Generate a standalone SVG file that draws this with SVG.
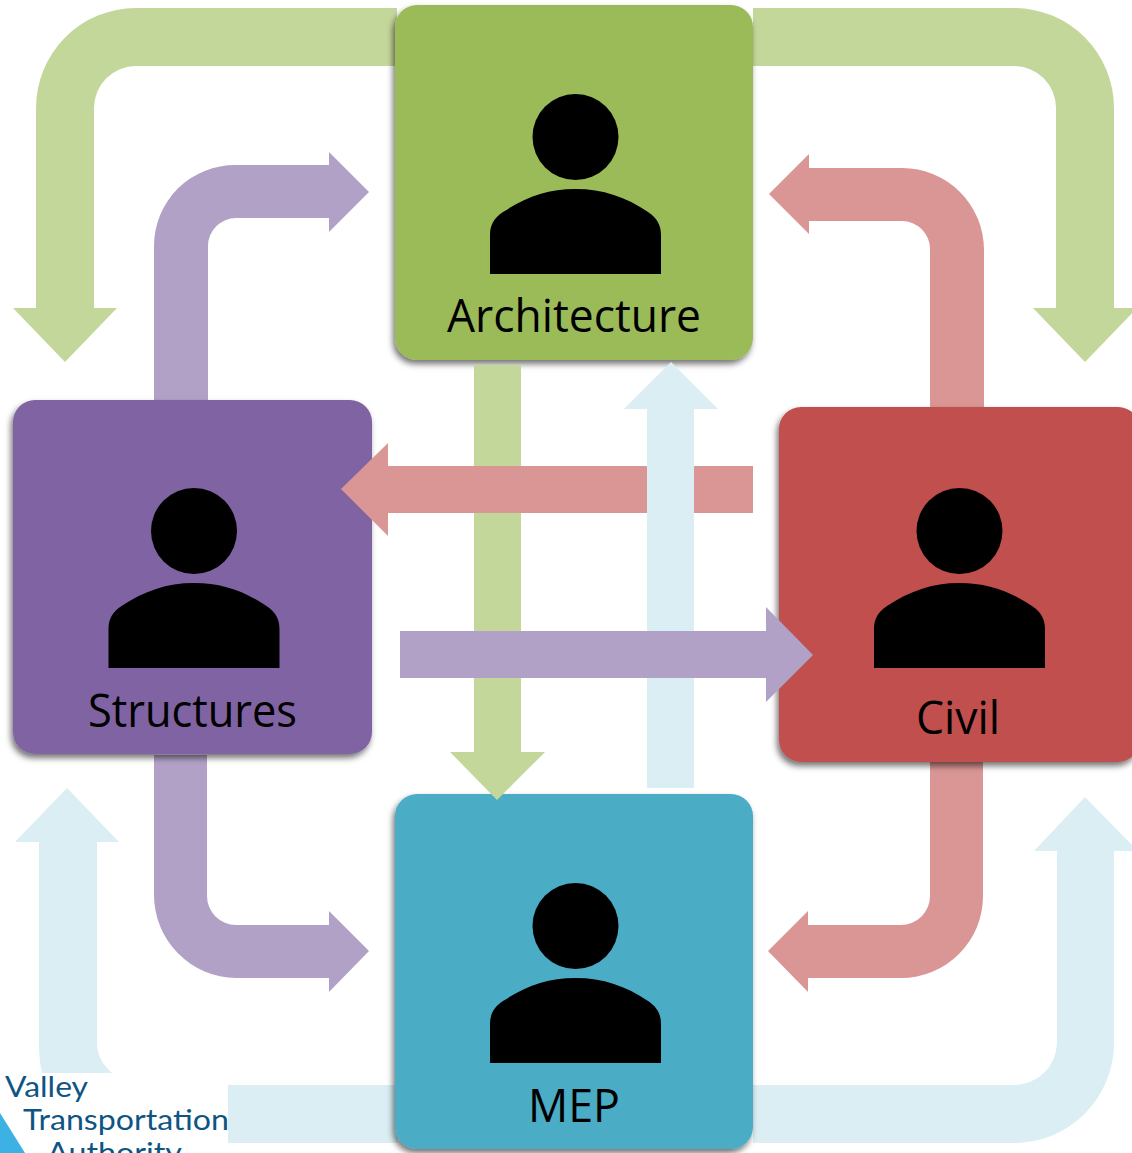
<svg xmlns="http://www.w3.org/2000/svg" width="1132" height="1153" viewBox="0 0 1132 1153">
<style>
.g{fill:#c4d79b}.p{fill:#b2a1c7}.r{fill:#d99694}.b{fill:#daeef3}
.label{font-family:"Open Sans","Noto Sans",sans-serif;font-size:46px;fill:#000;text-anchor:middle}
.logo{font-family:Lato,"Open Sans",sans-serif;font-size:29px;fill:#0f5584}
</style>
<defs>
<filter id="sh" x="-10%" y="-10%" width="120%" height="120%"><feDropShadow dx="-2" dy="4" stdDeviation="3" flood-color="#000" flood-opacity="0.55"/></filter>
<g id="person"><circle cx="85.500" cy="43" r="43"/><path d="M0 180V141C0 131 4 124 13 118C36 103 58 95 85.500 95C113 95 136 103 158 118C167 124 171 131 171 141V180Z"/></g>
</defs>
<rect width="1132" height="1153" fill="#fff"/>
<g id="connectors">
<path class="g" d="M397 8H136A100 100 0 0 0 36 108V308H13L65 362L117 308H94V108A42 42 0 0 1 136 66H397Z"/>
<path class="g" d="M753 8H1014A100 100 0 0 1 1114 108V308H1137L1085 362L1033 308H1056V108A42 42 0 0 0 1014 66H753Z"/>
<path class="p" d="M154 400V246A81 81 0 0 1 236 165H329V152L369 192L329 232V218H236A28 28 0 0 0 208 246V400Z"/>
<path class="r" d="M984 408V250A82 82 0 0 0 902 168H809V154L769 194L809 234V221H902A28 28 0 0 1 930 249V408Z"/>
<path class="p" d="M154 755V895A83 83 0 0 0 236 978H329V992L369 951L329 911V925H236A29 29 0 0 1 207 896V755Z"/>
<path class="r" d="M983 762V896A82 82 0 0 1 901 978H808V992L768 951L808 911V925H901A29 29 0 0 0 930 896V762Z"/>
<path class="b" d="M42 1073Q39 1060 39 1043V842H15L67 788L119 842H97V1043Q97 1060 112 1073Z"/>
<rect class="b" x="228" y="1085" width="170" height="58"/>
<path class="b" d="M753 1143H1014A100 100 0 0 0 1114 1043V851H1138L1085 797L1034 851H1057V1043A43 43 0 0 1 1014 1085H753Z"/>
</g>
<g id="architecture"><rect x="395" y="5" width="358" height="355" rx="22" fill="#9bbb59" filter="url(#sh)"/><use href="#person" x="490" y="94"/><text class="label" x="574" y="332" textLength="254" lengthAdjust="spacingAndGlyphs">Architecture</text></g>
<g id="structures"><rect x="13" y="400" width="359" height="354" rx="22" fill="#8064a2" filter="url(#sh)"/><use href="#person" x="108.500" y="488"/><text class="label" x="192.500" y="727" textLength="209" lengthAdjust="spacingAndGlyphs">Structures</text></g>
<g id="civil"><rect x="779" y="407" width="361" height="355" rx="22" fill="#c0504d" filter="url(#sh)"/><use href="#person" x="874" y="488"/><text class="label" x="958" y="734" textLength="84" lengthAdjust="spacingAndGlyphs">Civil</text></g>
<g id="mep"><rect x="395" y="794" width="358" height="355" rx="22" fill="#4bacc6" filter="url(#sh)"/><use href="#person" x="490" y="883"/><text class="label" x="574" y="1122" textLength="92" lengthAdjust="spacingAndGlyphs">MEP</text></g>
<g id="connectors-over">
<path class="g" d="M474 365H521V752H545L497 800L450 752H474Z"/>
<path class="r" d="M753 466H388V443L341 489L388 536V513H753Z"/>
<path class="b" d="M647 788V409H624L671 362L718 409H694V788Z"/>
<path class="p" d="M400 631H766V607L813 655L766 702V678H400Z"/>
</g>
<g id="logo"><path d="M0 1113L25 1153H0Z" fill="#3cb1e4"/><text class="logo" x="5" y="1097" textLength="83" lengthAdjust="spacingAndGlyphs">Valley</text><text class="logo" x="23" y="1130" textLength="206" lengthAdjust="spacingAndGlyphs">Transportation</text><text class="logo" x="47" y="1163" textLength="135" lengthAdjust="spacingAndGlyphs">Authority</text></g>
</svg>
